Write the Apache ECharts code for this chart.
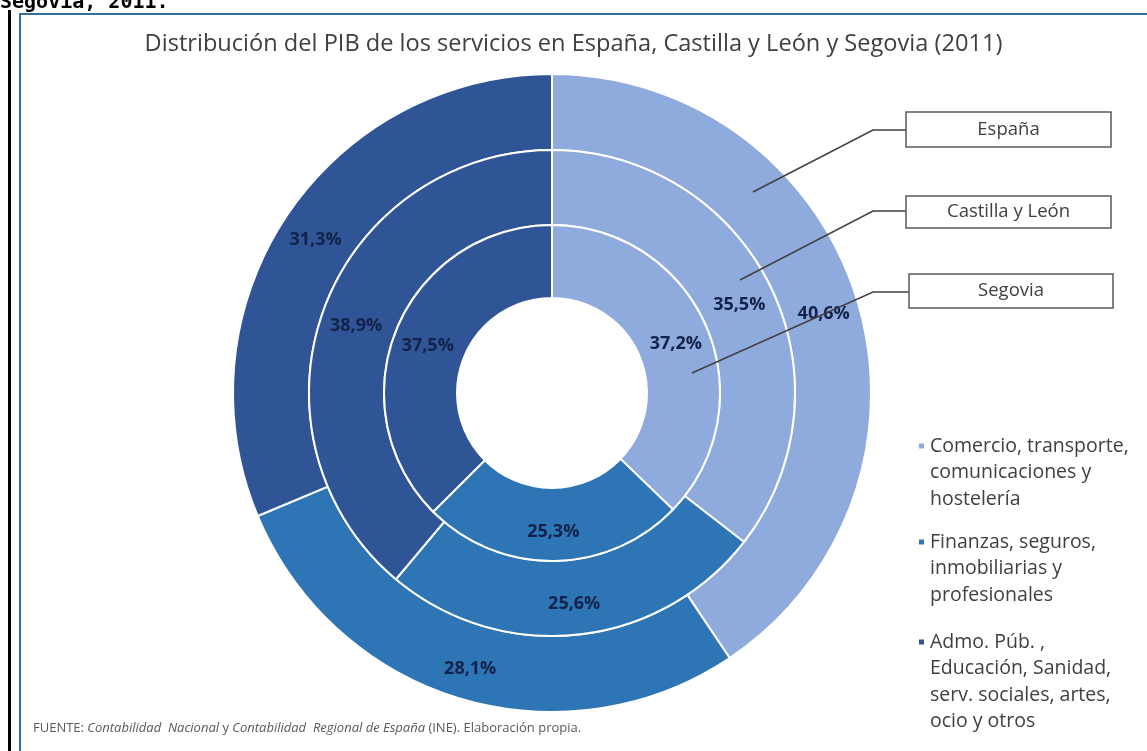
<!DOCTYPE html>
<html>
<head>
<meta charset="utf-8">
<script src="https://cdn.jsdelivr.net/npm/echarts@6/dist/echarts.min.js"></script>
<style>
  html, body { margin: 0; padding: 0; background: #fff; }
  #main { width: 1147px; height: 751px; }
</style>
</head>
<body>
<div id="main"></div>
<script>
// data
const rings = ['España', 'Castilla y León', 'Segovia'];
const categories = [
    'Comercio, transporte,\ncomunicaciones y\nhostelería',
    'Finanzas, seguros,\ninmobiliarias y\nprofesionales',
    'Admo. Púb. ,\nEducación, Sanidad,\nserv. sociales, artes,\nocio y otros'
];
const espana = [40.6, 28.1, 31.3];
const castilla = [35.5, 25.6, 38.9];
const segovia = [37.2, 25.3, 37.5];

const colors = ['#8faadc', '#2e75b6', '#2f5597'];
const font = 'Open Sans';
const chart = echarts.init(document.getElementById('main'));

const center = [552, 393];
const radii = [[243, 319], [168, 243], [95, 168]];
const ringValues = [espana, castilla, segovia];

function ringSeries(idx) {
    return {
        name: rings[idx],
        type: 'pie',
        center: center,
        radius: radii[idx],
        startAngle: 90,
        silent: true,
        itemStyle: { borderColor: '#fff', borderWidth: 2 },
        label: {
            show: true,
            position: 'inside',
            offset: [0, 4],
            color: '#13224a',
            fontFamily: font,
            fontWeight: 'bold',
            fontSize: 18,
            formatter: p => p.value.toFixed(1).replace('.', ',') + '%'
        },
        labelLine: { show: false },
        emphasis: { disabled: true },
        data: categories.map((name, i) => ({ name: name, value: ringValues[idx][i] }))
    };
}

// legend: one block per category, icon next to the first line
const legendLineH = 26.5;
const legendFirstLine = [441, 537, 637];
const legends = categories.map((name, i) => {
    const n = name.split('\n').length;
    return {
        data: [name],
        left: 912,
        top: legendFirstLine[i] - legendLineH / 2 - (n - 1) * legendLineH,
        icon: 'rect',
        itemWidth: 7,
        itemHeight: 7,
        selectedMode: false,
        formatter: nm => '\n'.repeat(n - 1) + nm,
        textStyle: { color: '#404040', fontFamily: font, fontSize: 19.5, lineHeight: legendLineH }
    };
});

function calloutBox(label, x, y, w, h) {
    return {
        type: 'group',
        z: 10,
        children: [
            { type: 'rect', z: 10, shape: { x: x, y: y, width: w, height: h },
              style: { fill: '#fff', stroke: '#595959', lineWidth: 1.5 } },
            { type: 'text', z: 11, x: x + w / 2, y: y + h / 2,
              style: { text: label, fill: '#404040', font: '18.5px "Open Sans"', align: 'center', verticalAlign: 'middle' } }
        ]
    };
}
function leader(points) {
    return { type: 'polyline', z: 10, shape: { points: points }, style: { stroke: '#404040', lineWidth: 1.5, fill: null } };
}

const option = {
    color: colors,
    title: {
        text: 'Distribución del PIB de los servicios en España, Castilla y León y Segovia (2011)',
        left: 'center',
        top: 27,
        textStyle: { color: '#404040', fontFamily: font, fontWeight: 'normal', fontSize: 23.6 }
    },
    legend: legends,
    series: [ringSeries(0), ringSeries(1), ringSeries(2)],
    graphic: [
        // page frame
        { type: 'rect', shape: { x: 8, y: 10, width: 3, height: 760 }, style: { fill: '#000' } },
        { type: 'rect', shape: { x: 20, y: 14, width: 1200, height: 800 }, style: { fill: null, stroke: '#31709c', lineWidth: 2 } },
        { type: 'text', x: 0, y: 13,
          style: { text: 'Segovia, 2011.', fill: '#000', font: 'bold 20px "DejaVu Sans Mono"', verticalAlign: 'bottom' } },
        // callouts
        leader([[753, 192], [873, 130], [906, 130]]),
        leader([[740, 280], [873, 211], [906, 211]]),
        leader([[692, 373], [873, 292], [909, 292]]),
        calloutBox(rings[0], 906, 112, 205, 35),
        calloutBox(rings[1], 906, 196, 205, 32),
        calloutBox(rings[2], 909, 274, 204, 34),
        // source
        { type: 'text', x: 33, y: 728,
          style: {
              text: '{a|FUENTE: }{b|Contabilidad  Nacional}{a| y }{b|Contabilidad  Regional de España}{a| (INE). Elaboración propia.}',
              verticalAlign: 'middle',
              rich: {
                  a: { fill: '#595959', fontFamily: font, fontSize: 13 },
                  b: { fill: '#595959', fontFamily: font, fontSize: 13, fontStyle: 'italic' }
              }
          } }
    ]
};
chart.setOption(option);
</script>
</body>
</html>
